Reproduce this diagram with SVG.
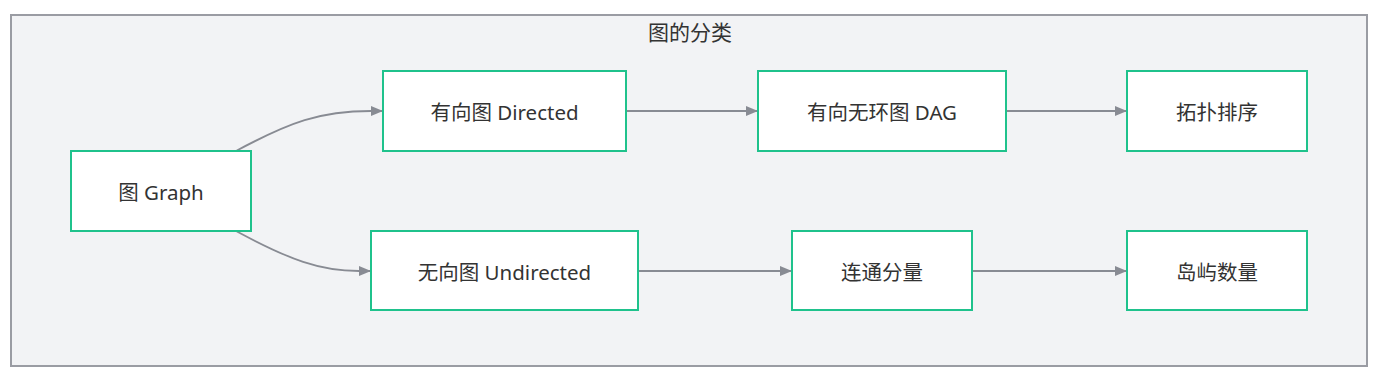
<svg xmlns="http://www.w3.org/2000/svg" width="1385" height="381" viewBox="0 0 1385 381">
<style>
.cluster{fill:#f2f3f5;stroke:#9a9ca3;stroke-width:2}
.node rect{fill:#ffffff;stroke:#1fc28c;stroke-width:2}
text{font-family:"Noto Sans","Noto Sans CJK SC",sans-serif;font-size:20.5px;fill:#333333;text-anchor:middle;dominant-baseline:central}
.edge{fill:none;stroke:#888b93;stroke-width:1.8}
</style>
<defs>
<marker id="arr" viewBox="0 0 12 10" refX="12" refY="5" markerWidth="12" markerHeight="10" markerUnits="userSpaceOnUse" orient="auto">
<path d="M0,0 L12,5 L0,10 Z" fill="#888b93"/>
</marker>
</defs>
<g id="cluster">
<rect class="cluster" x="11" y="15" width="1356" height="351"/>
<text x="690" y="32" style="font-size:21px">图的分类</text>
</g>
<g id="connectors">
<path class="edge" d="M236,151 C290,122 320,111 371,111 L383,111" marker-end="url(#arr)"/>
<path class="edge" d="M236,231 C290,260 320,271 359,271 L371,271" marker-end="url(#arr)"/>
<path class="edge" d="M626,111 L758,111" marker-end="url(#arr)"/>
<path class="edge" d="M1006,111 L1127,111" marker-end="url(#arr)"/>
<path class="edge" d="M638,271 L792,271" marker-end="url(#arr)"/>
<path class="edge" d="M972,271 L1127,271" marker-end="url(#arr)"/>
</g>
<g id="graph" class="node"><rect x="71" y="151" width="180" height="80"/><text x="161" y="192">图 Graph</text></g>
<g id="directed" class="node"><rect x="383" y="71" width="243" height="80"/><text x="504.5" y="112">有向图 Directed</text></g>
<g id="dag" class="node"><rect x="758" y="71" width="248" height="80"/><text x="882" y="112">有向无环图 DAG</text></g>
<g id="topo" class="node"><rect x="1127" y="71" width="180" height="80"/><text x="1217" y="112">拓扑排序</text></g>
<g id="undirected" class="node"><rect x="371" y="231" width="267" height="79"/><text x="504.5" y="272">无向图 Undirected</text></g>
<g id="cc" class="node"><rect x="792" y="231" width="180" height="79"/><text x="882" y="272">连通分量</text></g>
<g id="islands" class="node"><rect x="1127" y="231" width="180" height="79"/><text x="1217" y="272">岛屿数量</text></g>
</svg>
